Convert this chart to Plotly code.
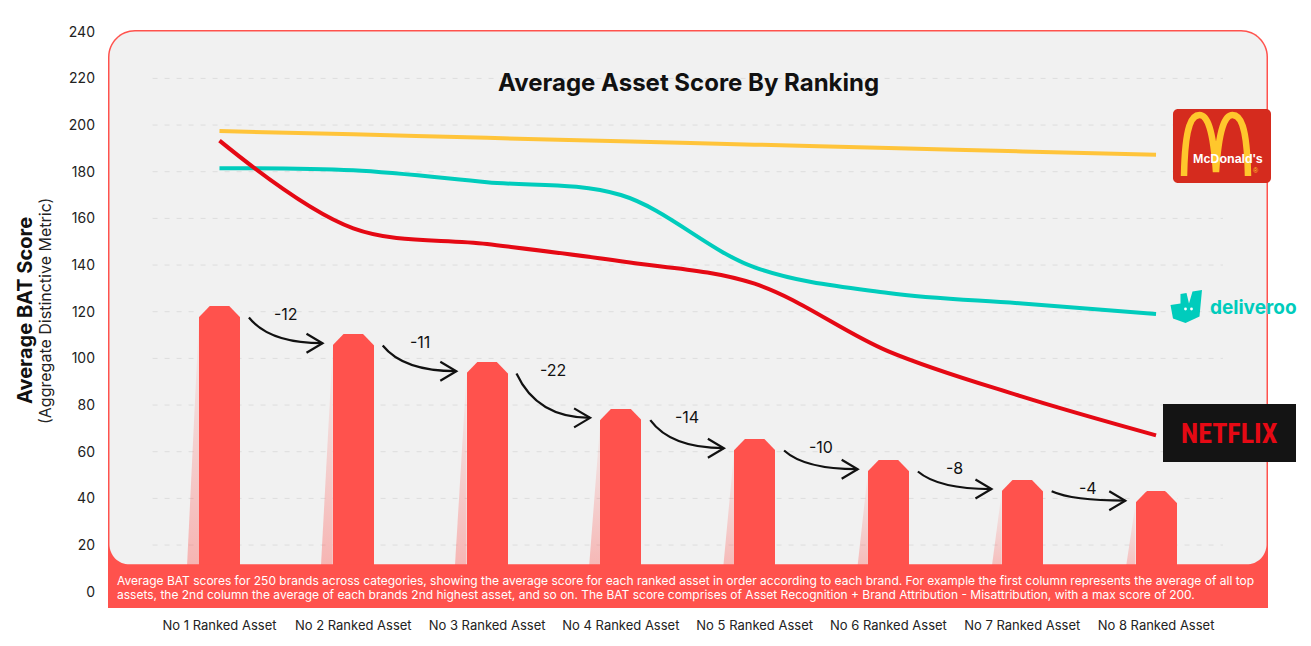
import plotly.graph_objects as go

# ---------------- data ----------------
categories = ["No 1 Ranked Asset", "No 2 Ranked Asset", "No 3 Ranked Asset", "No 4 Ranked Asset",
              "No 5 Ranked Asset", "No 6 Ranked Asset", "No 7 Ranked Asset", "No 8 Ranked Asset"]
bar_values = [122.5, 110.5, 98.5, 78.5, 65.5, 56.5, 48, 43]
drop_labels = ["-12", "-11", "-22", "-14", "-10", "-8", "-4"]
mcdonalds = [197.4, 196.0, 194.5, 193.0, 191.6, 190.2, 188.7, 187.3]
deliveroo = [181.5, 180.6, 175.5, 170.0, 139.0, 128.0, 123.5, 119.0]
netflix = [193.3, 155.7, 149.0, 141.6, 132.0, 103.0, 83.6, 67.0]
y_ticks = [0, 20, 40, 60, 80, 100, 120, 140, 160, 180, 200, 220, 240]

title_text = "Average Asset Score By Ranking"
y_title = "Average BAT Score"
y_subtitle = "(Aggregate Distinctive Metric)"
footnote_lines = [
    "Average BAT scores for 250 brands across categories, showing the average score for each ranked asset in order according to each brand. For example the first column represents the average of all top",
    "assets, the 2nd column the average of each brands 2nd highest asset, and so on. The BAT score comprises of Asset Recognition + Brand Attribution - Misattribution, with a max score of 200.",
]

# ---------------- styling / geometry ----------------
BODY = 8                      # default page margin around the figure
W, H = 1311 - 2 * BODY, 646 - 2 * BODY
PL, PT, PR, PB = 108, 30, 1268, 608   # plot area in page pixels
ML, MT = PL - BODY, PT - BODY
PW, PH = PR - PL, PB - PT
MR, MB = W - ML - PW, H - MT - PH
X0, X1 = -0.8333, 7.837
Y0, Y1 = -6.99, 240.73
UX = PW / (X1 - X0)   # px per x unit
UY = PH / (Y1 - Y0)   # px per y unit

RED = "#FF524D"
PANEL = "#F1F1F1"
YEL = "#FFC43A"
TEAL = "#00CCBC"
NFX = "#E50914"
FONT = "Inter"

bar_w = 41 / UX
cham_x = 11 / UX
cham_y = 12 / UY
shadow_dx = 12 / UX


def px(x):
    return (x - PL) / PW


def py(y):
    return (PB - y) / PH


def P(x, y):
    return f"{px(x):.5f},{py(y):.5f}"


def rrect(x0, y0, x1, y1, rt, rb):
    k = 0.4477
    d = f"M {P(x0, y1 - rb)} L {P(x0, y0 + rt)} "
    d += f"C {P(x0, y0 + rt * k)} {P(x0 + rt * k, y0)} {P(x0 + rt, y0)} "
    d += f"L {P(x1 - rt, y0)} C {P(x1 - rt * k, y0)} {P(x1, y0 + rt * k)} {P(x1, y0 + rt)} "
    d += f"L {P(x1, y1 - rb)} C {P(x1, y1 - rb * k)} {P(x1 - rb * k, y1)} {P(x1 - rb, y1)} "
    d += f"L {P(x0 + rb, y1)} C {P(x0 + rb * k, y1)} {P(x0, y1 - rb * k)} {P(x0, y1 - rb)} Z"
    return d


def note(x, y, text, size, color, family=FONT, **kw):
    d = dict(x=px(x), y=py(y), xref="paper", yref="paper", text=text, showarrow=False,
             xanchor="center", yanchor="middle", font=dict(family=family, size=size, color=color))
    d.update(kw)
    return d


fig = go.Figure()

# shadows
for i, v in enumerate(bar_values):
    xl = i - bar_w / 2
    fig.add_trace(go.Scatter(
        x=[xl, xl - shadow_dx * 1.1, xl, xl], y=[v - cham_y, 0, 0, v - cham_y],
        mode="none", fill="toself",
        fillgradient=dict(type="vertical",
                          colorscale=[[0, "rgba(255,82,77,0.42)"], [1, "rgba(255,82,77,0.03)"]]),
        hoverinfo="skip", showlegend=False))

# bars
fig.add_trace(go.Bar(x=list(range(len(categories))), y=bar_values, width=bar_w,
                     marker=dict(color=RED, line=dict(width=0)), hoverinfo="skip", showlegend=False))

# brand lines
for vals, col in [(mcdonalds, YEL), (deliveroo, TEAL), (netflix, NFX)]:
    fig.add_trace(go.Scatter(x=list(range(len(categories))), y=vals, mode="lines",
                             line=dict(color=col, width=4, shape="spline", smoothing=1.0),
                             hoverinfo="skip", showlegend=False))

shapes = []
# outer red frame and grey panel
shapes.append(dict(type="path", xref="paper", yref="paper", layer="below",
                   path=rrect(108, 30, 1268, 608, 27, 0), fillcolor=RED, line=dict(width=0)))
shapes.append(dict(type="path", xref="paper", yref="paper", layer="below",
                   path=rrect(109.5, 31.5, 1266.5, 564.5, 25.5, 20), fillcolor=PANEL, line=dict(width=0)))
# grid lines
for t in y_ticks:
    if 0 < t < 240:
        shapes.append(dict(type="line", xref="x", yref="y", layer="below",
                           x0=-0.5, x1=7.5, y0=t, y1=t,
                           line=dict(color="#DDDDDD", width=1, dash="5px,7px")))
# bottom band
shapes.append(dict(type="rect", xref="paper", yref="paper", layer="above",
                   x0=0, x1=1, y0=0, y1=py(564.5), fillcolor=RED, line=dict(width=0)))
# chamfered corners of bars
for i, v in enumerate(bar_values):
    xl, xr = i - bar_w / 2, i + bar_w / 2
    e = 0.6 / UX
    shapes.append(dict(type="path", xref="x", yref="y", layer="above",
                       path=f"M {xl - e},{v - cham_y} L {xl - e},{v + 1} L {xl + cham_x},{v + 1} L {xl + cham_x},{v} Z",
                       fillcolor=PANEL, line=dict(width=0)))
    shapes.append(dict(type="path", xref="x", yref="y", layer="above",
                       path=f"M {xr + e},{v - cham_y} L {xr + e},{v + 1} L {xr - cham_x},{v + 1} L {xr - cham_x},{v} Z",
                       fillcolor=PANEL, line=dict(width=0)))

annotations = []
# arrows between bars
for i, lab in enumerate(drop_labels):
    sx, sy = i + 0.22, bar_values[i] - 5
    ex, ey = i + 1 - 0.23, bar_values[i + 1] - 4
    cx, cy = sx + 0.28 * (ex - sx), ey
    shapes.append(dict(type="path", xref="x", yref="y", layer="above",
                       path=f"M {sx},{sy} Q {cx},{cy} {ex},{ey}",
                       line=dict(color="#111111", width=2.2)))
    hx, hy = 16 / UX, 9.5 / UY
    shapes.append(dict(type="path", xref="x", yref="y", layer="above",
                       path=f"M {ex - hx},{ey + hy} L {ex},{ey} L {ex - hx},{ey - hy}",
                       line=dict(color="#111111", width=2.2)))
    annotations.append(dict(x=(sx + ex) / 2, y=sy + 1.5, xref="x", yref="y", text=lab,
                            xanchor="center", yanchor="middle",
                            showarrow=False, font=dict(family=FONT, size=16, color="#111111")))

# ---------------- logos ----------------
# McDonald's
shapes.append(dict(type="path", xref="paper", yref="paper", layer="above",
                   path=rrect(1173, 109, 1271, 183, 5, 5), fillcolor="#D52B1E", line=dict(width=0)))
arch = (f"M {P(1184, 176)} C {P(1185, 124)} {P(1192, 115)} {P(1199.5, 115)} "
        f"C {P(1207, 115)} {P(1213, 128)} {P(1216, 172)} "
        f"C {P(1219, 128)} {P(1225, 115)} {P(1232.5, 115)} "
        f"C {P(1240, 115)} {P(1247, 124)} {P(1248, 176)}")
shapes.append(dict(type="path", xref="paper", yref="paper", layer="above",
                   path=arch, line=dict(color="#FFC72C", width=6.5)))
annotations.append(note(1228, 159, "<b>McDonald's</b>", 12.5, "white", "Liberation Sans"))
annotations.append(note(1256, 171, "®", 7, "#FFC72C", "Liberation Sans"))

# Deliveroo
roo = [(1180.5, 294), (1186.5, 293), (1189, 303.5), (1192.5, 291.5), (1202, 290), (1199.5, 316.5),
       (1185.5, 323), (1173, 318.5), (1170.5, 305), (1180.5, 303.5)]
roo_path = "M " + " L ".join(P(a, b) for a, b in roo) + " Z"
shapes.append(dict(type="path", xref="paper", yref="paper", layer="above",
                   path=roo_path, fillcolor=TEAL, line=dict(width=0)))
for ex_ in (1185.5, 1191.5):
    shapes.append(dict(type="circle", xref="paper", yref="paper", layer="above",
                       x0=px(ex_ - 1.4), x1=px(ex_ + 1.4), y0=py(310.4), y1=py(307.6),
                       fillcolor="white", line=dict(width=0)))
annotations.append(note(1253.5, 307, "<b>deliveroo</b>", 19, TEAL))

# Netflix
shapes.append(dict(type="rect", xref="paper", yref="paper", layer="above",
                   x0=px(1163), x1=px(1296), y0=py(462), y1=py(404), fillcolor="#141414", line=dict(width=0)))
annotations.append(note(1229, 433, "<b>NETFLIX</b>", 28, NFX,
                        "Roboto Condensed, Open Sans Condensed, Liberation Sans Narrow, DejaVu Sans Condensed, sans-serif"))

# ---------------- titles / text ----------------
annotations.append(note(688, 82, f"<b>{title_text}</b>", 24, "#111111"))
annotations.append(note(25, 311, f"<b>{y_title}</b>", 20, "#111111", textangle=-90))
annotations.append(note(45, 311, y_subtitle, 16, "#222222", textangle=-90))
for j, line in enumerate(footnote_lines):
    annotations.append(note(115, 580 + 14 * j, line, 12, "white", xanchor="left", align="left"))

fig.update_layout(
    width=W, height=H,
    margin=dict(l=ML, r=MR, t=MT, b=MB, pad=0, autoexpand=False),
    paper_bgcolor="white", plot_bgcolor="rgba(0,0,0,0)",
    showlegend=False, hovermode=False, bargap=0,
    shapes=shapes, annotations=annotations,
    xaxis=dict(range=[X0, X1], tickvals=list(range(len(categories))), ticktext=categories,
               showgrid=False, zeroline=False, showline=False, ticks="",
               tickfont=dict(family=FONT, size=13, color="#222222"), ticklabelstandoff=8,
               fixedrange=True),
    yaxis=dict(range=[Y0, Y1], tickvals=y_ticks, showgrid=False, zeroline=False, showline=False,
               ticks="", tickfont=dict(family=FONT, size=14, color="#222222"), ticklabelstandoff=12,
               fixedrange=True),
)

fig.write_html("out.html")
